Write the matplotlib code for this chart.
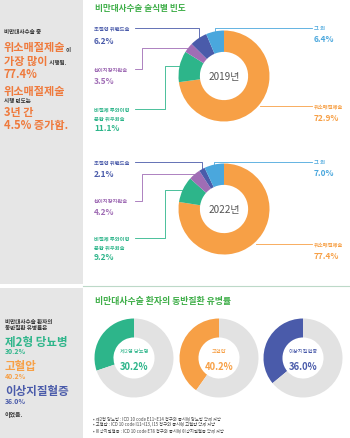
import matplotlib
matplotlib.use('Agg')
import matplotlib.pyplot as plt
import numpy as np

plt.rcParams['font.family'] = ['Noto Sans CJK KR', 'DejaVu Sans']

# 데이터
surgery_names = ['위소매절제술', '비절제 루와이형\n문합 위우회술', '십이지장치환술', '조절형 위밴드술', '그 외']
share_2019 = [72.9, 11.1, 3.5, 6.2, 6.4]
share_2022 = [77.4, 9.2, 4.2, 2.1, 7.0]
years = ['2019년', '2022년']

disease_names = ['제2형 당뇨병', '고혈압', '이상지질혈증']
disease_rates = [30.2, 40.2, 36.0]

# 색상
ORANGE = '#F7A046'
ORANGE_TXT = '#EF7A3C'
GREEN = '#2DB58A'
PURPLE = '#A06DB5'
NAVY = '#4A5BAA'
SKY = '#4AA7DD'
TITLE_GREEN = '#3EAE48'
DARK = '#333333'
LIGHT_GRAY = '#E2E2E2'
surgery_colors = [ORANGE, GREEN, PURPLE, NAVY, SKY]
disease_colors = [GREEN, ORANGE, NAVY]

W, H = 350, 439
fig = plt.figure(figsize=(W / 100, H / 100), dpi=100)
bg = fig.add_axes([0, 0, 1, 1])
bg.set_xlim(0, W)
bg.set_ylim(H, 0)
bg.axis('off')

# 왼쪽 회색 패널
bg.add_patch(plt.Rectangle((0, 0), 83, 285, color='#E6E6E6', lw=0))
bg.add_patch(plt.Rectangle((0, 289), 83, H - 289, color='#E6E6E6', lw=0))
bg.plot([83, W], [287, 287], color='#BCD9C8', lw=0.8)


def donut_ax(cx, cy, r):
    ax = fig.add_axes([(cx - r) / W, 1 - (cy + r) / H, 2 * r / W, 2 * r / H])
    ax.axis('off')
    return ax


def fit(ax):
    ax.set_xlim(-1, 1)
    ax.set_ylim(-1, 1)


def txt(x, y, s, size, color=DARK, weight='bold', **kw):
    return bg.text(x, y, s, fontsize=size, color=color, fontweight=weight,
                   va='center', ha=kw.pop('ha', 'left'), **kw)


def tail(t, s, size, color=DARK):
    bg.annotate(s, xy=(1, 0.1), xycoords=t, fontsize=size, color=color,
                fontweight='bold', va='bottom', ha='left')


# 왼쪽 상단 텍스트
txt(4, 32, '비만대사수술 중', 4)
t = txt(4, 48, '위소매절제술', 8, ORANGE_TXT)
tail(t, '이', 4)
t = txt(4, 61, '가장 많이', 8, ORANGE_TXT)
tail(t, ' 시행됨.', 4)
txt(4, 74, '77.4%', 8, ORANGE_TXT)
txt(4, 91, '위소매절제술', 8, ORANGE_TXT)
txt(4, 102, '시행 빈도는', 4)
txt(4, 113, '3년 간', 8, ORANGE_TXT)
txt(4, 126, '4.5% 증가함.', 8, ORANGE_TXT)

# 왼쪽 하단 텍스트
txt(5, 322, '비만대사수술 환자의', 4)
txt(5, 328, '동반질환 유병률은', 4)
left_y = [342, 367, 392]
for name, rate, col, y in zip(disease_names, disease_rates, disease_colors, left_y):
    txt(5, y, name, 8.3, col)
    txt(5, y + 10, f'{rate:.1f}%', 5, col)
txt(5, 415, '이었음.', 4.3)

# 제목
txt(95, 8, '비만대사수술 술식별 빈도', 6.2, TITLE_GREEN)
txt(95, 301, '비만대사수술 환자의 동반질환 유병률', 6.4, TITLE_GREEN)

# 술식별 도넛
LEFT_X, RIGHT_X = 94, 314
PCT = 6
donuts = [(share_2019, years[0], 77, {'그 외': 29, '조절형 위밴드술': 29,
                                      '십이지장치환술': 70, '비절제': 110}),
          (share_2022, years[1], 210, {'그 외': 163, '조절형 위밴드술': 163,
                                       '십이지장치환술': 202, '비절제': 239})]
cx, r = 224, 45.5
for shares, year, cy, ly in donuts:
    ax = donut_ax(cx, cy, r)
    ax.pie(shares, colors=surgery_colors, startangle=90, counterclock=False,
           radius=1, wedgeprops=dict(width=0.47, linewidth=0))
    fit(ax)
    ax.text(0, 0, year, ha='center', va='center', fontsize=7.2, color='#555555')

    cum = np.cumsum([0] + shares[:-1])
    mids = 90 - (cum + np.array(shares) / 2) * 3.6
    for name, v, col, a in zip(surgery_names, shares, surgery_colors, mids):
        axp = cx + r * np.cos(np.radians(a))
        ayp = cy - r * np.sin(np.radians(a))
        pct = f'{v:.1f}%'
        if name == '그 외':
            y = ly['그 외']
            bg.plot([axp, axp, RIGHT_X - 2], [ayp, y, y], color=col, lw=0.6)
            txt(RIGHT_X, y, '그 외', 3.8, col)
            txt(RIGHT_X, y + 11, pct, PCT, col)
        elif name == '위소매절제술':
            y = ayp
            bg.plot([axp + 2, RIGHT_X - 2], [y, y], color=col, lw=0.6)
            txt(RIGHT_X, y, name, 3.8, col)
            txt(RIGHT_X, y + 12, pct, PCT, col)
        elif name == '조절형 위밴드술':
            y = ly[name]
            bg.plot([axp, axp, 135], [ayp, y, y], color=col, lw=0.6)
            txt(LEFT_X, y, name, 3.8, col)
            txt(LEFT_X, y + 12, pct, PCT, col)
        elif name == '십이지장치환술':
            y = ly[name]
            bg.plot([axp, 142, 142, 135], [ayp, ayp, y, y], color=col, lw=0.6)
            txt(LEFT_X, y, name, 3.8, col)
            txt(LEFT_X, y + 11, pct, PCT, col)
        else:
            y = ly['비절제']
            bg.plot([axp, 165, 165, 135], [ayp, ayp, y, y], color=col, lw=0.6)
            l1, l2 = name.split('\n')
            txt(LEFT_X, y, l1, 3.8, col)
            txt(LEFT_X, y + 9, l2, 3.8, col)
            txt(LEFT_X, y + 19, pct, PCT, col)

# 동반질환 도넛
centers = [134, 219, 303]
for name, rate, col, dx in zip(disease_names, disease_rates, disease_colors, centers):
    ax = donut_ax(dx, 359, 39.5)
    ax.pie([rate, 100 - rate], colors=[col, LIGHT_GRAY], startangle=90,
           counterclock=True, radius=1, wedgeprops=dict(width=0.48, linewidth=0))
    fit(ax)
    ax.text(0, 0.2, name, ha='center', va='center', fontsize=3.8, color=col)
    ax.text(0, -0.2, f'{rate:.1f}%', ha='center', va='center', fontsize=6.8,
            color=col, fontweight='bold')

# 각주
notes = ['• 제2형 당뇨병 : ICD 10 code E11~E14 청구와 동시에 당뇨병 약제 처방',
         '• 고혈압 : ICD 10 code I11~I13, I15 청구와 동시에 고혈압 약제 처방',
         '• 이상지질혈증 : ICD 10 code E78 청구와 동시에 이상지질혈증 약제 처방']
for i, n in enumerate(notes):
    txt(93, 419 + i * 5.7, n, 3.1, '#444444', weight='normal')

fig.savefig('out.png', dpi=100)
